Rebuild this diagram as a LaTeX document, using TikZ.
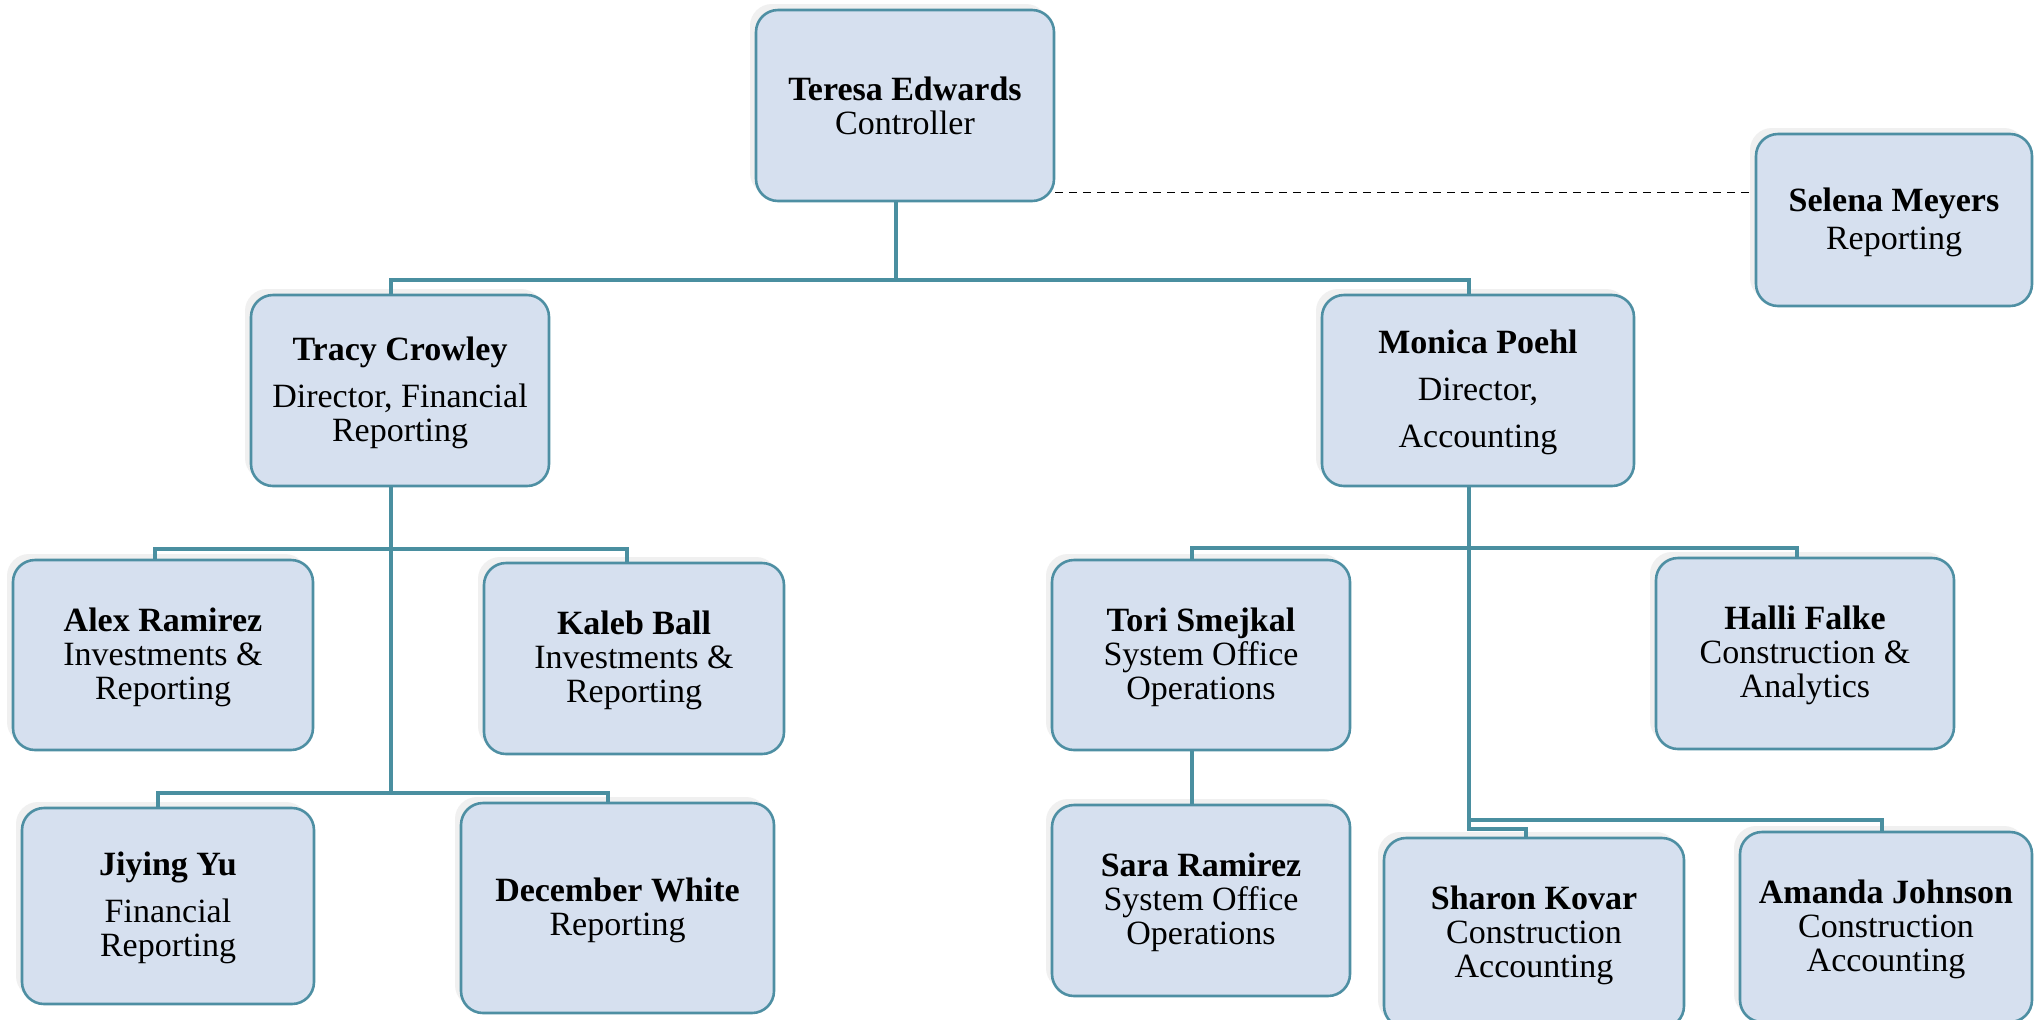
\documentclass[tikz,border=0pt]{standalone}
\usepackage{fontspec}
\setmainfont{Liberation Serif}
\usetikzlibrary{shadows,calc}
\definecolor{boxfill}{HTML}{D6E0EF}
\definecolor{boxline}{HTML}{4E8FA3}
\definecolor{connline}{HTML}{4A8FA0}
\tikzset{
  person/.style={draw=boxline, line width=1.3pt, fill=boxfill, rounded corners=11pt,
    align=center, inner sep=2pt, font=\fontsize{17}{17}\selectfont,
    general shadow={fill=black!6, shadow xshift=-3pt, shadow yshift=3pt}},
  conn/.style={draw=connline, line width=2pt},
  dotted link/.style={draw=black, line width=0.6pt, dash pattern=on 4pt off 3pt}
}
\begin{document}
\begin{tikzpicture}[x=0.5pt,y=-0.5pt]
\useasboundingbox (0,0) rectangle (2036,1019);
\fill[white] (0,0) rectangle (2036,1019);

\node[person, minimum width=149pt, minimum height=95.5pt] (teresa) at (905,105.5) {\textbf{Teresa Edwards}\\Controller};
\node[person, minimum width=138pt, minimum height=86pt] (selena) at (1894,220) {\rule{0pt}{14pt}\textbf{Selena Meyers}\\[2pt]Reporting};
\node[person, minimum width=149pt, minimum height=95.5pt] (tracy) at (400,390.5) {\rule{0pt}{14pt}\textbf{Tracy Crowley}\\[6.5pt]Director, Financial\\Reporting};
\node[person, minimum width=156pt, minimum height=95.5pt] (monica) at (1478,390.5) {\rule{0pt}{14pt}\textbf{Monica Poehl}\\[6.5pt]Director,\\[6.5pt]Accounting};
\node[person, minimum width=150pt, minimum height=95pt] (alex) at (163,655) {\rule{0pt}{14pt}\textbf{Alex Ramirez}\\Investments \&\\Reporting};
\node[person, minimum width=150pt, minimum height=95.5pt] (kaleb) at (634,658.5) {\rule{0pt}{14pt}\textbf{Kaleb Ball}\\Investments \&\\Reporting};
\node[person, minimum width=146pt, minimum height=98pt] (jiying) at (168,906) {\rule{0pt}{14pt}\textbf{Jiying Yu}\\[6.5pt]Financial\\Reporting};
\node[person, minimum width=156.5pt, minimum height=105pt] (december) at (617.5,908) {\rule{0pt}{14pt}\textbf{December White}\\Reporting};
\node[person, minimum width=149pt, minimum height=95pt] (tori) at (1201,655) {\rule{0pt}{14pt}\textbf{Tori Smejkal}\\System Office\\Operations};
\node[person, minimum width=149pt, minimum height=95.5pt] (halli) at (1805,653.5) {\rule{0pt}{14pt}\textbf{Halli Falke}\\Construction \&\\Analytics};
\node[person, minimum width=149pt, minimum height=95.5pt] (sara) at (1201,900.5) {\rule{0pt}{14pt}\textbf{Sara Ramirez}\\System Office\\Operations};
\node[person, minimum width=150pt, minimum height=95pt] (sharon) at (1534,933) {\rule{0pt}{14pt}\textbf{Sharon Kovar}\\Construction\\Accounting};
\node[person, minimum width=146pt, minimum height=95pt] (amanda) at (1886,927) {\rule{0pt}{14pt}\textbf{Amanda Johnson}\\Construction\\Accounting};

% connectors
\draw[conn] ([xshift=-4.5pt]teresa.south) -- ++(0,78) -| ([xshift=-4.5pt]tracy.north);
\draw[conn] ([xshift=-4.5pt]teresa.south) -- ++(0,78) -| ([xshift=-4.5pt]monica.north);

\draw[conn] ([xshift=-4.5pt]tracy.south) -- ++(0,62) -| ([xshift=-4pt]alex.north);
\draw[conn] ([xshift=-4.5pt]tracy.south) -- ++(0,62) -| ([xshift=-3.5pt]kaleb.north);
\draw[conn] ([xshift=-4.5pt]tracy.south) -- ++(0,306) -| ([xshift=-5pt]jiying.north);
\draw[conn] ([xshift=-4.5pt]tracy.south) -- ++(0,306) -| ([xshift=-4.75pt]december.north);

\draw[conn] ([xshift=-4.5pt]monica.south) -- ++(0,61) -| ([xshift=-4.5pt]tori.north);
\draw[conn] ([xshift=-4.5pt]monica.south) -- ++(0,61) -| ([xshift=-4pt]halli.north);
\draw[conn] ([xshift=-4.5pt]monica.south) -- ++(0,333) -| ([xshift=-2pt]amanda.north);
\draw[conn] ([xshift=-4.5pt]monica.south) -- ++(0,342) -| ([xshift=-4pt]sharon.north);

\draw[conn] ([xshift=-4.5pt]tori.south) -- ([xshift=-4.5pt]sara.north);

\draw[dotted link] ([yshift=5pt]teresa.south east) -- ([yshift=5pt]teresa.south east -| selena.west);
\end{tikzpicture}
\end{document}
